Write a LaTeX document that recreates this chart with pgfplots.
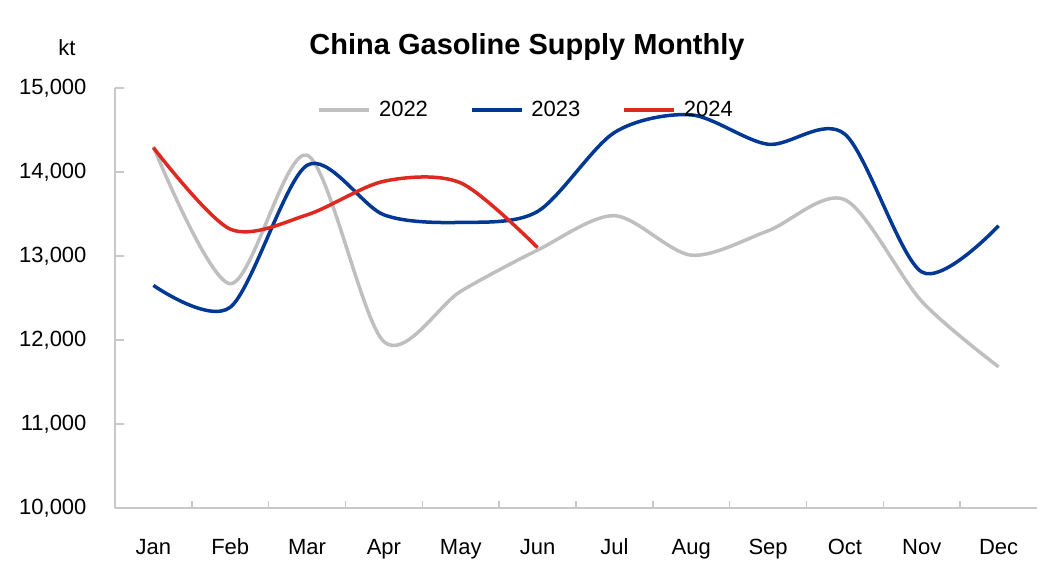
\documentclass[border=0pt]{standalone}
\usepackage{pgfplots}
\pgfplotsset{compat=1.18}
\usepackage{fontspec}
\setmainfont{Liberation Sans}
\definecolor{c22}{RGB}{191,191,191}
\definecolor{c23}{RGB}{0,56,147}
\definecolor{c24}{RGB}{222,41,33}
\definecolor{axgray}{RGB}{200,200,200}
\begin{document}
\begin{tikzpicture}
\useasboundingbox (-115pt,-65pt) rectangle (940pt,508pt);
\begin{axis}[
  at={(0,0)}, anchor=south west,
  scale only axis, width=922pt, height=420pt,
  xmin=-0.5, xmax=11.5, ymin=10000, ymax=15000,
  axis x line*=bottom, axis y line*=left,
  axis line style={axgray, line width=1.5pt, -},
  xtick={0,...,11},
  xticklabels={Jan,Feb,Mar,Apr,May,Jun,Jul,Aug,Sep,Oct,Nov,Dec},
  minor xtick={0.5,1.5,...,10.5},
  ytick={10000,11000,...,15000},
  scaled y ticks=false,
  /pgf/number format/fixed,
  /pgf/number format/1000 sep={,},
  /pgf/number format/assume math mode=true,
  tick align=inside,
  major x tick style={draw=none},
  minor x tick style={axgray, line width=1.5pt},
  minor tick length=7pt,
  major y tick style={axgray, line width=1.5pt},
  major tick length=9pt,
  tick label style={font=\fontsize{22}{26}\selectfont},
  yticklabel style={anchor=east, xshift=-25pt},
  xticklabel style={anchor=north, yshift=-27pt, text height=16pt, text depth=5pt},
  clip=false,
  legend columns=3,
  legend style={at={(0.446,0.948)}, anchor=center, draw=none, fill=none,
    font=\fontsize{22}{26}\selectfont,
    /tikz/every odd column/.style={column sep=6pt},
    /tikz/every even column/.style={column sep=40pt}},
  legend image code/.code={\draw[#1] (0pt,0pt) -- (50pt,0pt);},
]
\addplot[c22, line width=3.5pt, smooth, tension=0.5] coordinates {
(0,14300) (1,12670) (2,14200) (3,11980) (4,12580) (5,13070)
(6,13480) (7,13010) (8,13300) (9,13670) (10,12460) (11,11680)};
\addlegendentry{2022}
\addplot[c23, line width=3.5pt, smooth, tension=0.5] coordinates {
(0,12650) (1,12390) (2,14080) (3,13490) (4,13400) (5,13530)
(6,14470) (7,14680) (8,14330) (9,14450) (10,12810) (11,13360)};
\addlegendentry{2023}
\addplot[c24, line width=3.5pt, smooth, tension=0.5] coordinates {
(0,14290) (1,13320) (2,13490) (3,13890) (4,13870) (5,13100)};
\addlegendentry{2024}
\end{axis}
\node[font=\bfseries\fontsize{29}{33}\selectfont] at (412pt,461pt) {China Gasoline Supply Monthly};
\node[font=\fontsize{22}{26}\selectfont] at (-48pt,460pt) {kt};
\end{tikzpicture}
\end{document}
